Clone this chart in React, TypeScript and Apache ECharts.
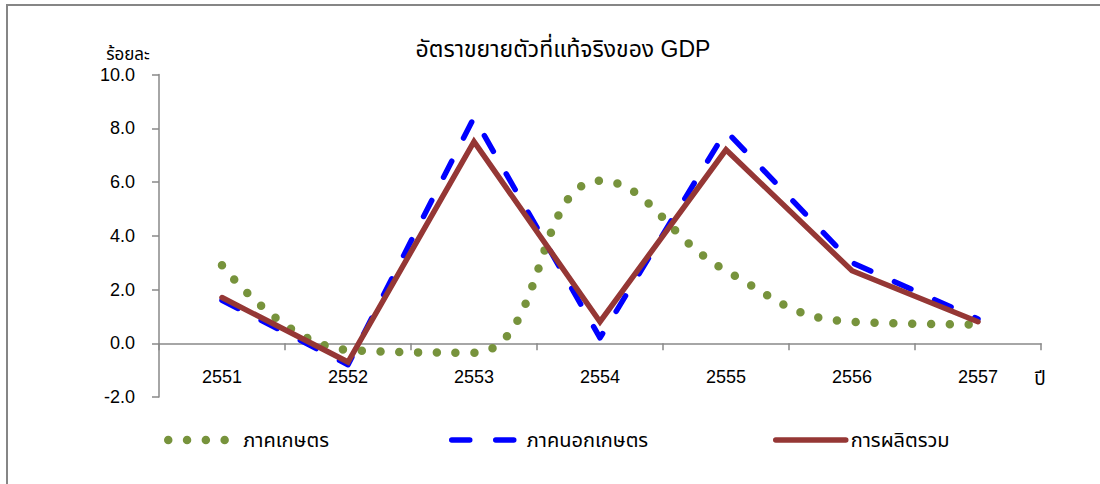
import React, { useEffect, useRef } from "react";
import * as echarts from "echarts";

const years = ["2551", "2552", "2553", "2554", "2555", "2556", "2557"];
const agriculture = [2.9, -0.25, -0.35, 6.05, 2.7, 0.8, 0.7];
const nonAgriculture = [1.6, -0.8, 8.4, 0.2, 7.9, 3.0, 0.9];
const totalProduction = [1.7, -0.7, 7.5, 0.8, 7.2, 2.7, 0.8];
const seriesNames = ["ภาคเกษตร", "ภาคนอกเกษตร", "การผลิตรวม"];
const titleText = "อัตราขยายตัวที่แท้จริงของ GDP";
const yUnit = "ร้อยละ";
const xUnit = "ปี";
const yMin = -2;
const yMax = 10;
const yStep = 2;

const FONT = "Tahoma, 'Liberation Sans', Arial, 'Noto Sans Thai', sans-serif";
const AXIS_COLOR = "#898989";
const GREEN = "#77933C";
const BLUE = "#0000FF";
const RED = "#953735";

export default function App() {
  const ref = useRef<HTMLDivElement>(null);

  useEffect(() => {
    if (!ref.current) return;
    const chart = echarts.init(ref.current, undefined, { renderer: "svg" });

    const legendBase = {
      top: 430,
      padding: 0,
      itemWidth: 70,
      itemHeight: 14,
      itemGap: 0,
      selectedMode: false,
      itemStyle: { opacity: 0, borderWidth: 0 },
      textStyle: { fontFamily: FONT, fontSize: 20, color: "#000" },
    };

    chart.setOption({
      animation: false,
      backgroundColor: "#fff",
      title: {
        text: titleText,
        left: 558,
        top: 32,
        textAlign: "center",
        textStyle: { fontFamily: FONT, fontSize: 23, fontWeight: "normal", color: "#000" },
      },
      legend: [
        { ...legendBase, data: [seriesNames[0]], left: 164, lineStyle: { width: 8.5 } },
        { ...legendBase, data: [seriesNames[1]], left: 449, lineStyle: { width: 5.5 } },
        { ...legendBase, data: [seriesNames[2]], left: 773, lineStyle: { width: 5.5 } },
      ],
      grid: { left: 159, right: 59, top: 74.5, bottom: 87, containLabel: false },
      xAxis: {
        type: "category",
        data: years,
        boundaryGap: true,
        axisLine: { show: true, onZero: true, lineStyle: { color: AXIS_COLOR, width: 1.5 } },
        axisTick: { show: true, length: 7, lineStyle: { color: AXIS_COLOR, width: 1.5 } },
        axisLabel: { margin: -29, fontFamily: FONT, fontSize: 18, color: "#000" },
        splitLine: { show: false },
      },
      yAxis: {
        type: "value",
        min: yMin,
        max: yMax,
        interval: yStep,
        axisLine: { show: true, lineStyle: { color: AXIS_COLOR, width: 1.5 } },
        axisTick: { show: true, length: 7, lineStyle: { color: AXIS_COLOR, width: 1.5 } },
        axisLabel: {
          margin: 24,
          fontFamily: FONT,
          fontSize: 18,
          color: "#000",
          formatter: (v: number) => v.toFixed(1),
        },
        splitLine: { show: false },
      },
      graphic: [
        {
          type: "rect",
          shape: { x: 7, y: 5, width: 1200, height: 600 },
          style: { fill: "none", stroke: "#868686", lineWidth: 2 },
          silent: true,
        },
        {
          type: "text",
          x: 128,
          y: 54,
          style: {
            text: yUnit,
            fontFamily: FONT,
            fontSize: 17,
            fill: "#000",
            align: "center",
            verticalAlign: "middle",
          },
        },
        {
          type: "text",
          x: 1040,
          y: 378,
          style: {
            text: xUnit,
            fontFamily: FONT,
            fontSize: 19,
            fill: "#000",
            align: "center",
            verticalAlign: "middle",
          },
        },
      ],
      series: [
        {
          name: seriesNames[0],
          type: "line",
          data: agriculture,
          smooth: 0.45,
          symbol: "none",
          lineStyle: { color: GREEN, width: 8.5, type: [0, 18.8], cap: "round" },
          itemStyle: { color: GREEN },
        },
        {
          name: seriesNames[1],
          type: "line",
          data: nonAgriculture,
          symbol: "none",
          lineStyle: { color: BLUE, width: 5.5, type: [18, 26], cap: "round", join: "round" },
          itemStyle: { color: BLUE },
        },
        {
          name: seriesNames[2],
          type: "line",
          data: totalProduction,
          symbol: "none",
          lineStyle: { color: RED, width: 5.5, cap: "round", join: "miter" },
          itemStyle: { color: RED },
        },
      ],
    });

    return () => chart.dispose();
  }, []);

  return (
    <div
      ref={ref}
      style={{ position: "absolute", left: 0, top: 0, width: 1100, height: 484 }}
    />
  );
}
